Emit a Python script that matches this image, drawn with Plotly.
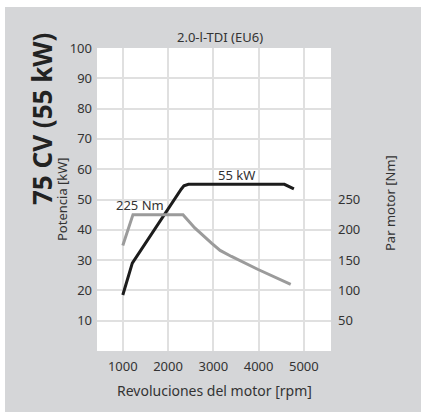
import plotly.graph_objects as go

# Data
power_rpm = [1000, 1210, 2290, 2350, 2450, 4570, 4780]
power_kw = [18.5, 29, 53.4, 54.5, 55, 55, 53.5]

torque_rpm = [1000, 1225, 2330, 2590, 2960, 3150, 3400, 3700, 3990, 4710]
torque_nm = [174, 225, 225, 203, 178, 166, 156, 145, 134.5, 110]

x_ticks = [1000, 2000, 3000, 4000, 5000]
y_ticks = [10, 20, 30, 40, 50, 60, 70, 80, 90, 100]
y2_ticks = [50, 100, 150, 200, 250]

FONT = "Noto Sans"
TXT = "#333333"
GRAY_BG = "#d5d6d8"

fig = go.Figure()
fig.add_trace(go.Scatter(x=torque_rpm, y=torque_nm, yaxis="y2", mode="lines",
                         line=dict(color="#9b9b9b", width=3), hoverinfo="skip"))
fig.add_trace(go.Scatter(x=power_rpm, y=power_kw, mode="lines",
                         line=dict(color="#1c1c1c", width=3), hoverinfo="skip"))

L, R, T, B = 97, 331, 48, 351
W, H = 423, 420
pw, ph = R - L, B - T

def px(xp):
    return (xp - L) / pw

def py(yp):
    return (B - yp) / ph

fig.add_shape(type="rect", xref="paper", yref="paper", layer="below",
              x0=px(5), x1=px(421), y0=py(412), y1=py(7),
              fillcolor=GRAY_BG, line=dict(width=0))
fig.add_shape(type="rect", xref="paper", yref="paper", layer="below",
              x0=0, x1=1, y0=0, y1=1, fillcolor="white", line=dict(width=0))

ann = [
    dict(text="2.0-l-TDI (EU6)", x=px(220), y=py(37), size=13),
    dict(text="<b>75 CV (55 kW)</b>", x=px(42), y=py(119), size=26, angle=-90, color="#222222"),
    dict(text="Potencia [kW]", x=px(62), y=py(199), size=13, angle=-90),
    dict(text="Par motor [Nm]", x=px(390), y=py(203), size=13, angle=-90),
    dict(text="Revoluciones del motor [rpm]", x=px(214), y=py(390), size=14),
    dict(text="225 Nm", x=px(140), y=py(205), size=13),
    dict(text="55 kW", x=px(236), y=py(175), size=13),
]
for a in ann:
    fig.add_annotation(text=a["text"], x=a["x"], y=a["y"], xref="paper", yref="paper",
                       showarrow=False, textangle=a.get("angle", 0),
                       xanchor="center", yanchor="middle",
                       font=dict(family=FONT, size=a["size"], color=a.get("color", TXT)))

fig.update_layout(
    width=W, height=H,
    margin=dict(l=L, r=W - R, t=T, b=H - B),
    paper_bgcolor="white", plot_bgcolor="white",
    showlegend=False,
    font=dict(family=FONT, size=13, color=TXT),
    xaxis=dict(range=[430, 5600], tickvals=x_ticks, showgrid=True, gridcolor="#e0e0e0",
               gridwidth=1.5, zeroline=False, showline=False, ticks="",
               tickfont=dict(size=13, color=TXT), ticklabelstandoff=6, fixedrange=True),
    yaxis=dict(range=[0, 100], tickvals=y_ticks, showgrid=True, gridcolor="#e0e0e0",
               gridwidth=1.5, zeroline=False, showline=False, ticks="",
               tickfont=dict(size=13, color=TXT), ticklabelstandoff=4, fixedrange=True),
    yaxis2=dict(range=[0, 500], tickvals=y2_ticks, overlaying="y", side="right",
                showgrid=False, zeroline=False, showline=False, ticks="",
                tickfont=dict(size=13, color=TXT), ticklabelstandoff=6, fixedrange=True),
)

fig.write_html("out.html", config={"displayModeBar": False},
               post_script="document.body.style.margin='0';document.body.style.overflow='hidden';")
